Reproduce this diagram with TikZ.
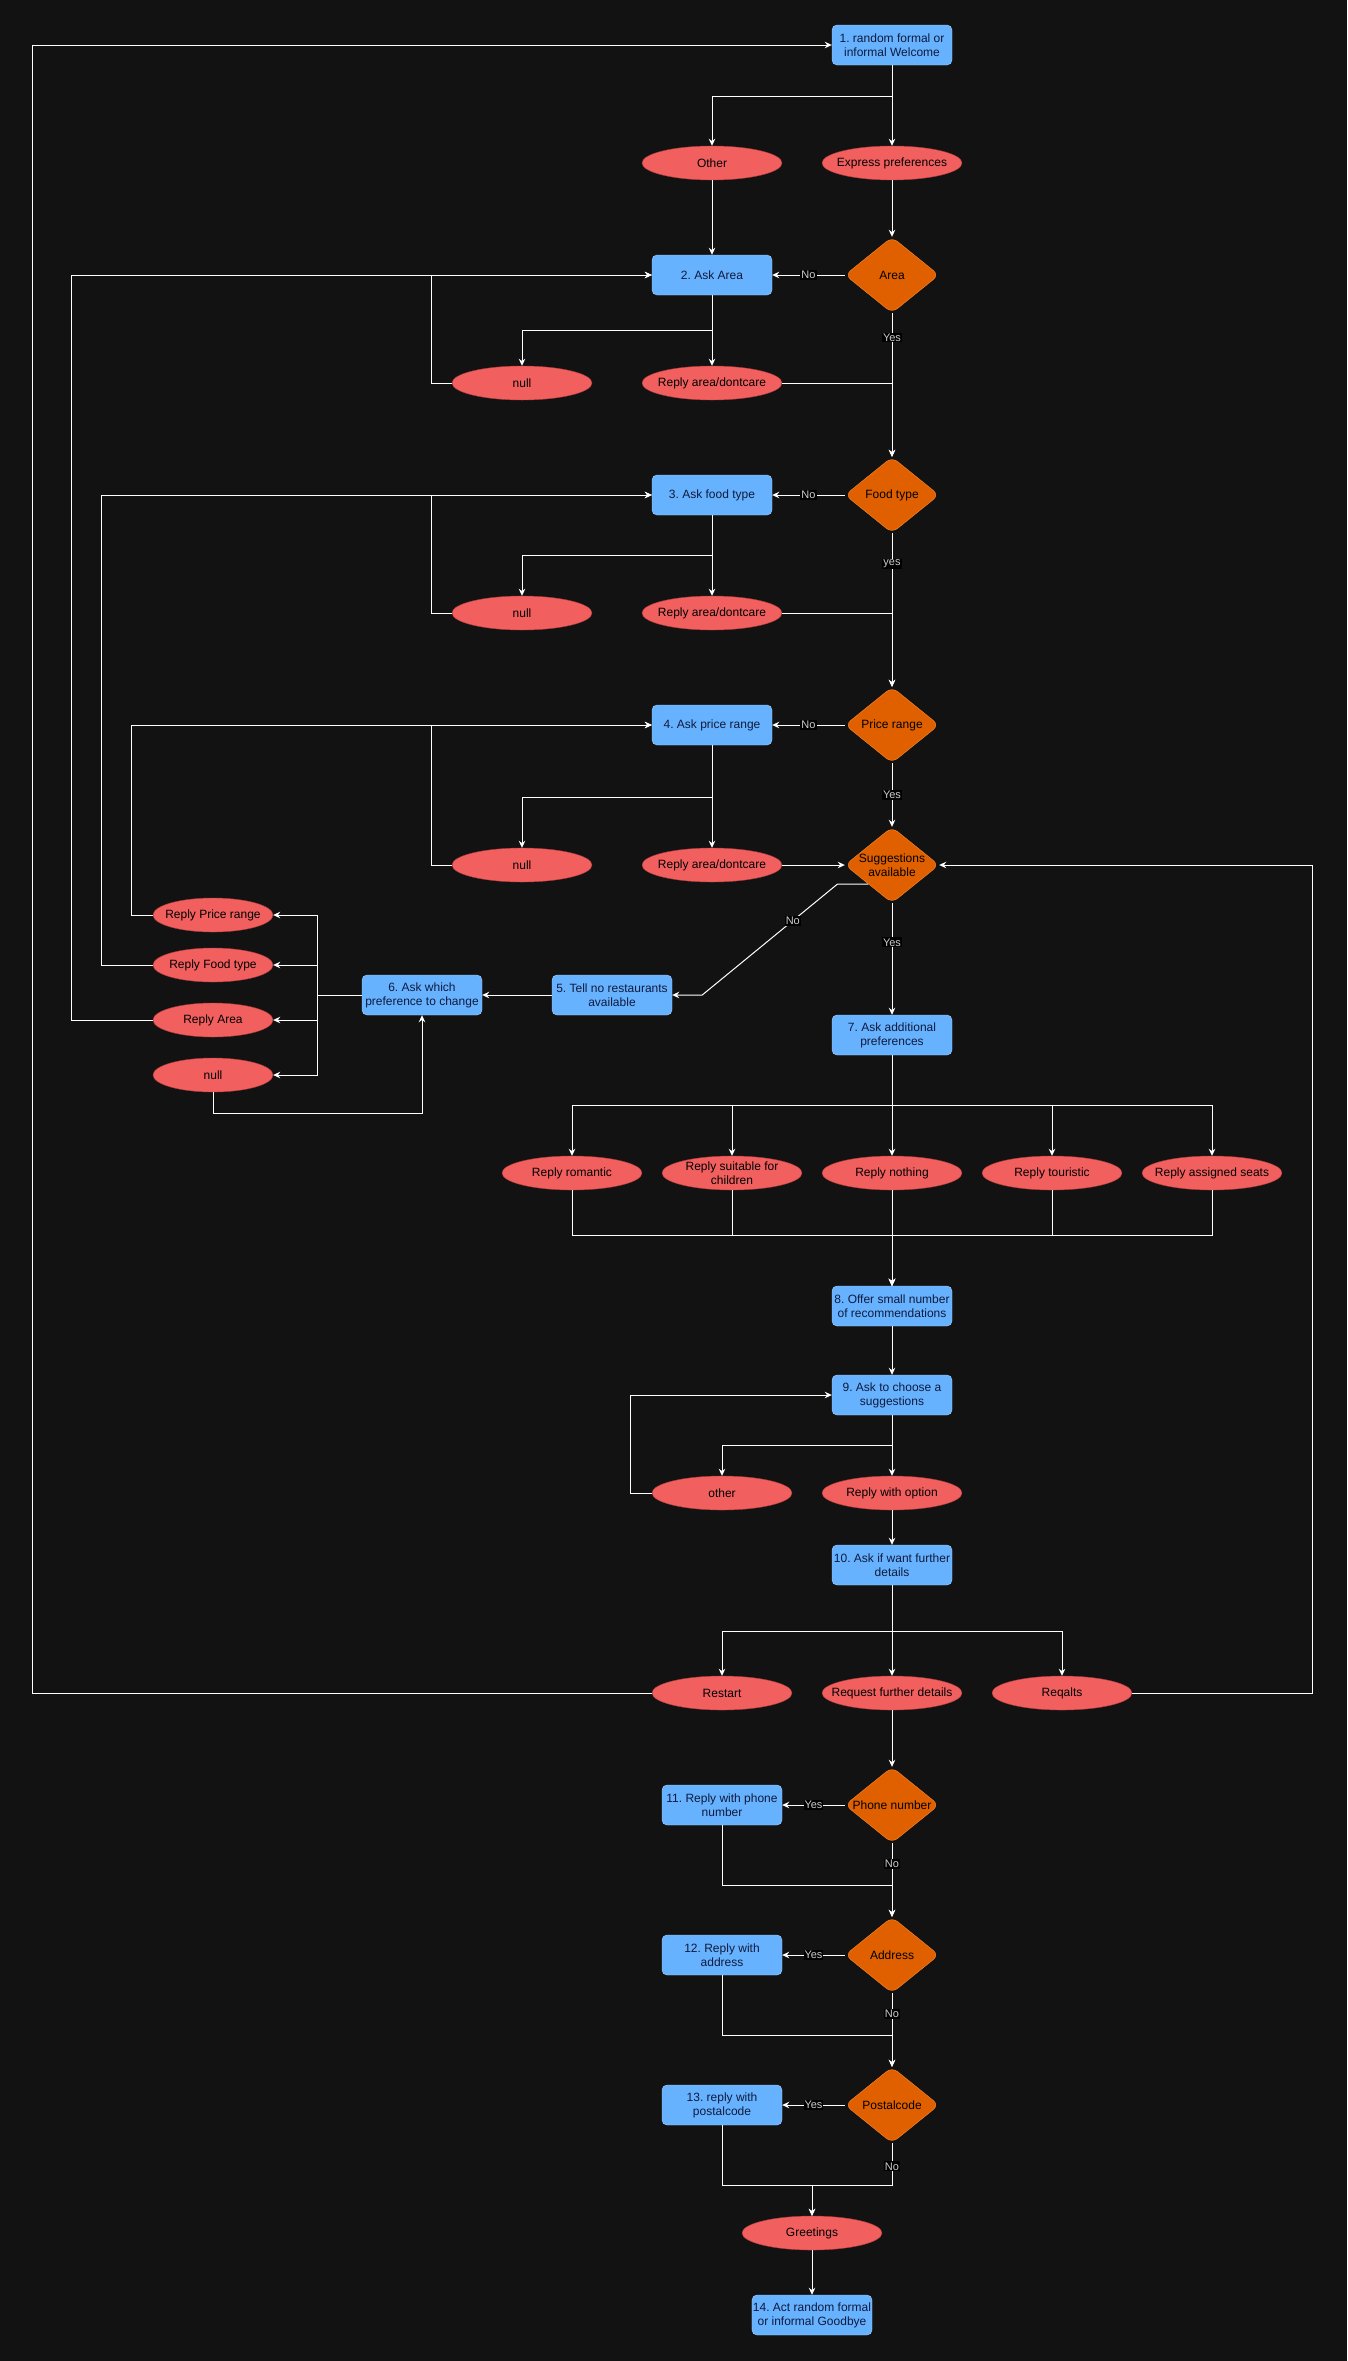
\documentclass[tikz,border=0pt]{standalone}
\usepackage{fontspec}
\setmainfont{Liberation Sans}
\usepackage{tikz}
\usetikzlibrary{shapes.geometric,arrows.meta}
\definecolor{bg}{HTML}{121212}
\definecolor{blue1}{HTML}{66b2ff}
\definecolor{blue2}{HTML}{a9d1ff}
\definecolor{blue3}{HTML}{0f1a3d}
\definecolor{red1}{HTML}{f25f5f}
\definecolor{red2}{HTML}{b03c3c}
\definecolor{orange1}{HTML}{e06000}
\definecolor{orange2}{HTML}{ff8a30}
\definecolor{gray1}{HTML}{cccccc}
\frenchspacing

\begin{document}
\begin{tikzpicture}[x=1pt, y=-1pt, align=center, font=\fontsize{12}{14}\selectfont,
  box/.style={rectangle, rounded corners=5pt, fill=blue1, draw=blue2, text=blue3, minimum width=120pt, minimum height=40pt, inner sep=1pt},
  oval/.style={ellipse, fill=red1, draw=red2, text=black, minimum width=140pt, minimum height=34pt, inner xsep=-12pt, inner ysep=-2pt},
  small/.style={oval, minimum width=120pt},
  dec/.style={diamond, rounded corners=7pt, fill=orange1, draw=orange2, text=black, minimum width=94pt, minimum height=76pt, inner sep=0pt, aspect=1.24},
  line/.style={draw=white, line width=1pt},
  arr/.style={line, -{Stealth[length=7pt,width=6.5pt]}},
  lab/.style={fill=black, text=gray1, font=\fontsize{11}{12}\selectfont, inner sep=1pt}]
\fill[bg] (0,0) rectangle (1347,2361);
\useasboundingbox (0,0) rectangle (1347,2361);

\node[box] (n1) at (892,45) {1. random formal or\\informal Welcome};
\node[oval] (other) at (712,163) {Other};
\node[oval] (express) at (892,163) {Express preferences};

\node[dec] (area) at (892,275) {Area};
\node[box] (askarea) at (712,275) {2. Ask Area};
\node[oval] (null1) at (522,383) {null};
\node[oval] (rad1) at (712,383) {Reply area/dontcare};

\node[dec] (food) at (892,495) {Food type};
\node[box] (askfood) at (712,495) {3. Ask food type};
\node[oval] (null2) at (522,613) {null};
\node[oval] (rad2) at (712,613) {Reply area/dontcare};

\node[dec] (price) at (892,725) {Price range};
\node[box] (askprice) at (712,725) {4. Ask price range};
\node[oval] (null3) at (522,865) {null};
\node[oval] (rad3) at (712,865) {Reply area/dontcare};

\node[dec, inner xsep=-6pt] (sugg) at (892,865) {Suggestions\\available};
\node[box] (tell) at (612,995) {5. Tell no restaurants\\available};
\node[box] (change) at (422,995) {6. Ask which\\preference to change};
\node[small] (rprice) at (213,915) {Reply Price range};
\node[small] (rfood) at (213,965) {Reply Food type};
\node[small] (rarea) at (213,1020) {Reply Area};
\node[small] (null4) at (213,1075) {null};

\node[box] (addpref) at (892,1035) {7. Ask additional\\preferences};
\node[oval] (romantic) at (572,1173) {Reply romantic};
\node[oval] (children) at (732,1173) {Reply suitable for\\children};
\node[oval] (nothing) at (892,1173) {Reply nothing};
\node[oval] (touristic) at (1052,1173) {Reply touristic};
\node[oval] (seats) at (1212,1173) {Reply assigned seats};

\node[box] (offer) at (892,1306) {8. Offer small number\\of recommendations};
\node[box] (choose) at (892,1395) {9. Ask to choose a\\suggestions};
\node[oval] (other2) at (722,1493) {other};
\node[oval] (option) at (892,1493) {Reply with option};
\node[box] (further) at (892,1565) {10. Ask if want further\\details};
\node[oval] (restart) at (722,1693) {Restart};
\node[oval] (request) at (892,1693) {Request further details};
\node[oval] (reqalts) at (1062,1693) {Reqalts};

\node[dec] (phone) at (892,1805) {Phone number};
\node[box] (rphone) at (722,1805) {11. Reply with phone\\number};
\node[dec] (address) at (892,1955) {Address};
\node[box] (raddr) at (722,1955) {12. Reply with\\address};
\node[dec] (postal) at (892,2105) {Postalcode};
\node[box] (rpostal) at (722,2105) {13. reply with\\postalcode};
\node[oval] (greet) at (812,2233) {Greetings};
\node[box] (bye) at (812,2315) {14. Act random formal\\or informal Goodbye};

\draw[arr] (n1) -- (express);
\draw[arr] (n1.south) -- ++(0,31) -| (other.north);
\draw[arr] (express) -- (area);
\draw[arr] (other) -- (askarea);

\draw[arr] (area) -- node[lab]{No} (askarea);
\draw[arr] (area) -- node[lab, pos=0.17]{Yes} (food);
\draw[arr] (askarea) -- (rad1);
\draw[arr] (askarea.south) -- ++(0,35) -| (null1.north);
\draw[arr] (null1.west) -- ++(-20,0) |- (askarea.west);
\draw[arr] (rad1.east) -| (food.north);

\draw[arr] (food) -- node[lab]{No} (askfood);
\draw[arr] (food) -- node[lab, pos=0.2]{yes} (price);
\draw[arr] (askfood) -- (rad2);
\draw[arr] (askfood.south) -- ++(0,40) -| (null2.north);
\draw[arr] (null2.west) -- ++(-20,0) |- (askfood.west);
\draw[arr] (rad2.east) -| (price.north);

\draw[arr] (price) -- node[lab]{No} (askprice);
\draw[arr] (price) -- node[lab]{Yes} (sugg);
\draw[arr] (askprice) -- (rad3);
\draw[arr] (askprice.south) -- ++(0,52) -| (null3.north);
\draw[arr] (null3.west) -- ++(-20,0) |- (askprice.west);
\draw[arr] (rad3) -- (sugg);

\draw[arr] (sugg.south west) -- ++(-31,0) -- node[lab, pos=0.33]{No} ([xshift=30pt]tell.east) -- (tell.east);
\draw[arr] (tell) -- (change);
\draw[line] (change.west) -- ++(-44,0) coordinate (bus);
\foreach \n in {rprice,rfood,rarea,null4}
  \draw[arr] (bus) |- (\n.east);
\draw[arr] (null4.south) -- ++(0,21) -| (change.south);
\draw[arr] (rprice.west) -- ++(-21,0) |- (askprice.west);
\draw[arr] (rfood.west) -- ++(-51,0) |- (askfood.west);
\draw[arr] (rarea.west) -- ++(-81,0) |- (askarea.west);

\draw[arr] (sugg) -- node[lab, pos=0.35]{Yes} (addpref);
\foreach \n in {romantic,children,nothing,touristic,seats} {
  \draw[arr] (addpref.south) -- ++(0,50) -| (\n.north);
  \draw[arr] (\n.south) -- ++(0,45) -| (offer.north);
}

\draw[arr] (offer) -- (choose);
\draw[arr] (choose) -- (option);
\draw[arr] (choose.south) -- ++(0,30) -| (other2.north);
\draw[arr] (other2.west) -- ++(-21,0) |- (choose.west);
\draw[arr] (option) -- (further);
\draw[arr] (further) -- (request);
\draw[arr] (further.south) -- ++(0,46) -| (restart.north);
\draw[arr] (further.south) -- ++(0,46) -| (reqalts.north);
\draw[arr] (restart.west) -- ++(-619,0) |- (n1.west);
\draw[arr] (reqalts.east) -- ++(180,0) |- (sugg.east);

\draw[arr] (request) -- (phone);
\draw[arr] (phone) -- node[lab]{Yes} (rphone);
\draw[arr] (phone) -- node[lab, pos=0.28]{No} (address);
\draw[arr] (rphone.south) -- ++(0,60) -| (address.north);
\draw[arr] (address) -- node[lab]{Yes} (raddr);
\draw[arr] (address) -- node[lab, pos=0.28]{No} (postal);
\draw[arr] (raddr.south) -- ++(0,60) -| (postal.north);
\draw[arr] (postal) -- node[lab]{Yes} (rpostal);
\draw[arr] (rpostal.south) -- ++(0,60) -| (greet.north);
\draw[arr] (postal.south) -- node[lab, pos=0.55]{No} ++(0,42) -| (greet.north);
\draw[arr] (greet) -- (bye);
\end{tikzpicture}
\end{document}
